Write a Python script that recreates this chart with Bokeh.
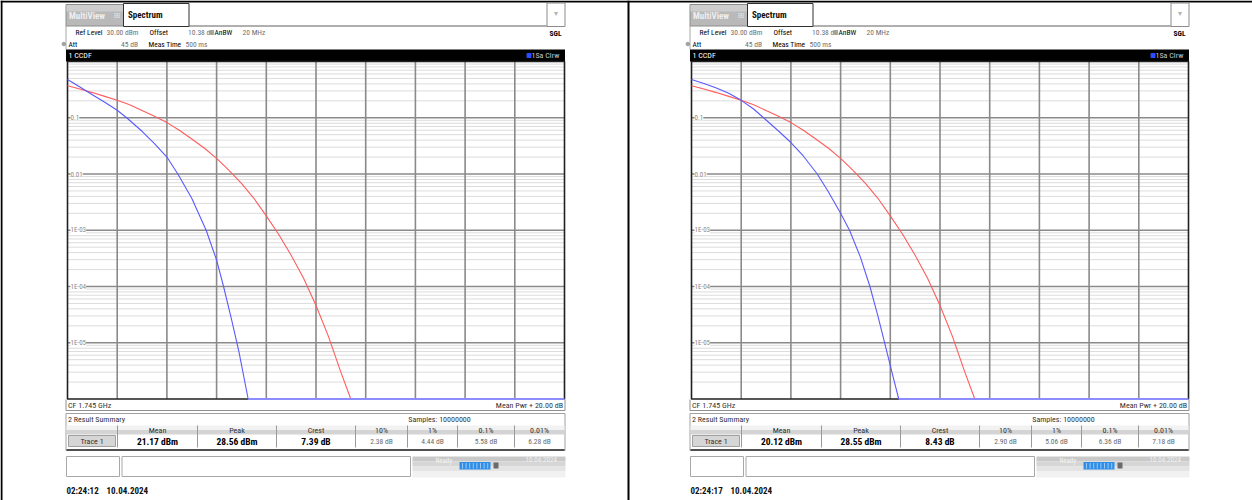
import math
from bokeh.plotting import figure
from bokeh.models import Range1d, LogScale, ColumnDataSource, LabelSet
from bokeh.core.properties import value
from bokeh.embed import file_html
from bokeh.resources import INLINE

FONT = "Liberation Sans Narrow, Roboto Condensed, DejaVu Sans Condensed, Roboto, sans-serif"

# Gaussian (AWGN) reference: level above mean power (dB) vs. probability
gauss_db = [0.0, 0.5, 1.0, 1.5, 2.0, 2.5, 3.0, 3.5, 4.0, 4.5, 5.0, 5.5, 6.0, 6.5, 7.0,
            7.5, 8.0, 8.5, 9.0, 9.5, 10.0, 10.5, 11.0, 11.4]
gauss_prob = [0.37, 0.325, 0.28, 0.24, 0.205, 0.17, 0.135, 0.106, 0.082, 0.060, 0.042,
              0.029, 0.019, 0.0116, 0.0068, 0.0037, 0.0018, 0.00084, 0.00036, 0.00014,
              4.6e-5, 1.3e-5, 3e-6, 1e-6]

# Trace 1, first capture
trace_a_db = [0.0, 0.5, 1.0, 1.5, 2.0, 2.38, 3.0, 3.5, 4.0, 4.44, 5.0, 5.58, 6.0, 6.28,
              6.6, 6.9, 7.27]
trace_a_prob = [0.479, 0.351, 0.257, 0.188, 0.136, 0.1, 0.0575, 0.0347, 0.02, 0.01, 0.0037,
                0.001, 2.95e-4, 1e-4, 2.6e-5, 6.9e-6, 1e-6]

# Trace 1, second capture
trace_b_db = [0.0, 0.5, 1.0, 1.5, 2.0, 2.5, 2.9, 3.5, 4.0, 4.5, 5.06, 5.5, 6.0, 6.36,
              6.8, 7.18, 7.5, 7.8, 8.1, 8.34]
trace_b_prob = [0.479, 0.407, 0.339, 0.272, 0.204, 0.143, 0.1, 0.0582, 0.0363, 0.0209,
                0.01, 0.0049, 0.002, 0.001, 3.3e-4, 1e-4, 3.0e-5, 8.9e-6, 2.6e-6, 1e-6]

# Display scaling
x_span_db = 20.0
y_floor = 1e-6
y_top = 1.0
x_div_db = [2, 4, 6, 8, 10, 12, 14, 16, 18]
decade_values = [1e-1, 1e-2, 1e-3, 1e-4, 1e-5]
decade_labels = ["0.1", "0.01", "1E-03", "1E-04", "1E-05"]

# Result summary
summary_heads = ["Mean", "Peak", "Crest", "10%", "1%", "0.1%", "0.01%"]
mean_dbm = [21.17, 20.12]
peak_dbm = [28.56, 28.55]
crest_db = [7.39, 8.43]
pct_a = [2.38, 4.44, 5.58, 6.28]
pct_b = [2.90, 5.06, 6.36, 7.18]
stamp_time = ["02:24:12", "02:24:17"]
stamp_date = "10.04.2024"
samples = 10000000

W, H = 1252, 500
# diagram window (pixels) of the first screen; the second one sits PANEL_DX further right
FR_L, FR_R, FR_T, FR_B = 67.0, 564.0, 61.0, 398.5
PANEL_DX = 624

p = figure(width=W, height=H, x_range=Range1d(0, W), y_range=Range1d(H, 0),
           x_axis_type=None, y_axis_type=None, toolbar_location=None,
           output_backend="svg", min_border=0, outline_line_color=None)

px_per_db = (FR_R - FR_L) / x_span_db
px_per_dec = (FR_B - FR_T) / math.log10(y_top / y_floor)
p.extra_x_ranges = {
    "db_a": Range1d(-FR_L / px_per_db, (W - FR_L) / px_per_db),
    "db_b": Range1d(-(FR_L + PANEL_DX) / px_per_db, (W - FR_L - PANEL_DX) / px_per_db),
}
p.extra_y_ranges = {"prob": Range1d(10 ** (math.log10(y_floor) - (H - FR_B) / px_per_dec),
                                    10 ** (math.log10(y_top) + FR_T / px_per_dec))}
p.extra_y_scales = {"prob": LogScale()}


def put(x, y, s, size=8.5, color="#303030", bold=False, align="left", font=FONT):
    p.text(x=[x], y=[y], text=[s], text_font=value(font), text_font_size=f"{size}px",
           text_font_style="bold" if bold else "normal", text_color=color,
           text_align=align, text_baseline="middle")


def box(l, r, t, b, fill="white", line=None, lw=1):
    p.quad(left=[l], right=[r], top=[t], bottom=[b], fill_color=fill,
           line_color=line, line_width=lw)


def seg(x0, y0, x1, y1, color="#909090", lw=1):
    p.segment(x0=[x0], y0=[y0], x1=[x1], y1=[y1], line_color=color, line_width=lw)


# page frame
box(0, W, 0, 2, fill="black")
box(0, 2, 0, H, fill="black")
box(627, 629, 0, H, fill="black")


def header(o):
    box(65.5 + o, 123 + o, 4, 25.5, fill="#b9b9b9", line="#8c8c8c")
    box(66 + o, 122.5 + o, 4.5, 11, fill="#cdcdcd")
    put(68.5 + o, 15, "MultiView", size=9, color="#eeeeee", bold=True)
    put(113 + o, 15, "\u229e", size=8, color="#e4e4e4", font="DejaVu Sans")
    box(123 + o, 188.5 + o, 3, 26, fill="white", line="#303030")
    put(127.5 + o, 14.5, "Spectrum", size=9, color="#111111", bold=True)
    seg(188.5 + o, 25.5, 546.5 + o, 25.5, color="#606060")
    box(546.5 + o, 564.5 + o, 2.5, 26, fill="white", line="#8c8c8c")
    put(555.5 + o, 13, "\u25be", size=8, color="#b4b4b4", align="center", font="DejaVu Sans")
    seg(65.5 + o, 25.5, 65.5 + o, 49, color="#a8a8a8")
    fs = 7.5
    put(75 + o, 32, "Ref Level", size=fs, color="#000000")
    put(106 + o, 32, "30.00 dBm", size=fs, color="#707070")
    put(149 + o, 32, "Offset", size=fs, color="#000000")
    put(187.5 + o, 32, "10.38 dB", size=fs, color="#707070")
    p.scatter(x=[210.5 + o], y=[32], size=3.5, color="#a0a0a0")
    put(214 + o, 32, "AnBW", size=fs, color="#000000")
    put(242 + o, 32, "20 MHz", size=fs, color="#707070")
    put(561 + o, 33, "SGL", size=fs, color="#000000", bold=True, align="right")
    p.scatter(x=[63.3 + o], y=[43.5], size=3.5, color="#a0a0a0")
    put(68 + o, 43.5, "Att", size=fs, color="#000000")
    put(137.5 + o, 43.5, "45 dB", size=fs, color="#707070", align="right")
    put(148 + o, 43.5, "Meas Time", size=fs, color="#000000")
    put(185 + o, 43.5, "500 ms", size=fs, color="#707070")
    box(65.5 + o, 564.5 + o, 49, 61, fill="black")
    put(68 + o, 55, "1 CCDF", size=8, color="white")
    p.scatter(x=[528.5 + o], y=[55], size=4, marker="square", color="#2a4dff")
    put(531 + o, 55, "1Sa Clrw", size=8, color="#c8c8c8")


def diagram(xr, t_db, t_prob):
    kw = dict(x_range_name=xr, y_range_name="prob")
    minors = [k * 10.0 ** e for e in range(-6, 0) for k in range(2, 10)]
    n = len(minors)
    p.segment(x0=[0] * n, x1=[x_span_db] * n, y0=minors, y1=minors,
              line_color="#b8b8b8", line_width=1, line_dash="1 1", **kw)
    n = len(decade_values)
    p.segment(x0=[0] * n, x1=[x_span_db] * n, y0=decade_values, y1=decade_values,
              line_color="#8a8a8a", line_width=1.5, **kw)
    n = len(x_div_db)
    p.segment(x0=x_div_db, x1=x_div_db, y0=[y_floor] * n, y1=[y_top] * n,
              line_color="#8a8a8a", line_width=1.6, **kw)
    p.quad(left=[0], right=[x_span_db], bottom=[y_floor], top=[y_top],
           fill_color=None, line_color="#202020", line_width=1.6, **kw)
    src = ColumnDataSource(dict(x=[0.12] * len(decade_values), y=decade_values, t=decade_labels))
    p.add_layout(LabelSet(x="x", y="y", text="t", source=src, text_font=value(FONT),
                          text_font_size="7px", text_color="#8a8a8a",
                          text_baseline="middle", background_fill_color="white", **kw))
    p.line(gauss_db, gauss_prob, line_color="#ff5c5c", line_width=1.1, **kw)
    p.line(t_db, t_prob, line_color="#5a5aff", line_width=1.1, **kw)
    x_floor = t_db[t_prob.index(y_floor)]
    p.line([x_floor, x_span_db], [y_floor, y_floor], line_color="#8c8cff", line_width=2, **kw)


def footer(o, i, pcts):
    seg(65.5 + o, 399, 65.5 + o, 410, color="#909090")
    seg(564.5 + o, 399, 564.5 + o, 410, color="#909090")
    seg(65.5 + o, 410, 564.5 + o, 410, color="#909090")
    put(67.5 + o, 404.5, "CF 1.745 GHz", size=8, color="#333333")
    put(562.5 + o, 404.5, "Mean Pwr + %.2f dB" % x_span_db, size=8, color="#333333", align="right")
    box(65.5 + o, 564.5 + o, 413, 450, fill="white", line="#a0a0a0")
    put(67.5 + o, 419, "2 Result Summary", size=8, color="#333333")
    put(439 + o, 419, "Samples: %d" % samples, size=8, color="#333333", align="center")
    box(66 + o, 564 + o, 425, 429.5, fill="#f2f2f2")
    box(66 + o, 564 + o, 429.5, 434, fill="#d4d4d4")
    edges = [67, 117, 197, 276, 355, 407, 457, 514, 564]
    for e in edges[1:-1]:
        seg(e + o, 425, e + o, 447, color="#9a9a9a")
    vals = ["%.2f dBm" % mean_dbm[i], "%.2f dBm" % peak_dbm[i], "%.2f dB" % crest_db[i]]
    vals += ["%.2f dB" % v for v in pcts]
    for k, h in enumerate(summary_heads):
        cx = (edges[k + 1] + edges[k + 2]) / 2 + o
        put(cx, 429.5, h, size=8, color="#333333", align="center")
        if k < 3:
            put(cx, 440.5, vals[k], size=9.5, color="#000000", bold=True, align="center")
        else:
            put(cx, 440.5, vals[k], size=7.5, color="#6a6a6a", align="center")
    box(68 + o, 115 + o, 435, 446, fill="#d6d6d6", line="#a0a0a0")
    put(91.5 + o, 440.5, "Trace 1", size=8, color="#333333", align="center")
    seg(66 + o, 449.5, 564 + o, 449.5, color="#505050", lw=2)
    box(66 + o, 119 + o, 456, 476, fill="white", line="#a8a8a8")
    box(121.5 + o, 410 + o, 456, 476, fill="white", line="#a8a8a8")
    for (ta, tb, c) in [(456, 461, "#c9c9c9"), (461, 466, "#d6d6d6"),
                        (466, 471, "#e4e4e4"), (471, 477, "#f1f1f1")]:
        box(412 + o, 565 + o, ta, tb, fill=c)
    put(435 + o, 460, "Ready", size=7, color="#f4f4f4")
    box(459 + o, 490 + o, 461.5, 469, fill="#2f8fe8")
    for k in range(8):
        xx = 462 + k * 3.6 + o
        seg(xx, 462.5, xx, 468, color="#9cc8f4", lw=1)
    box(493 + o, 498 + o, 462, 468, fill="#6a6a6a")
    put(525 + o, 459, stamp_date, size=7, color="#f0f0f0")
    put(66 + o, 490, stamp_time[i], size=9, color="#111111", bold=True)
    put(106 + o, 490, stamp_date, size=9, color="#111111", bold=True)


for i, (o, xr, tdb, tpr, pc) in enumerate([
        (0, "db_a", trace_a_db, trace_a_prob, pct_a),
        (PANEL_DX, "db_b", trace_b_db, trace_b_prob, pct_b)]):
    header(o)
    diagram(xr, tdb, tpr)
    footer(o, i, pc)

with open("out.html", "w") as f:
    f.write(file_html(p, INLINE))
